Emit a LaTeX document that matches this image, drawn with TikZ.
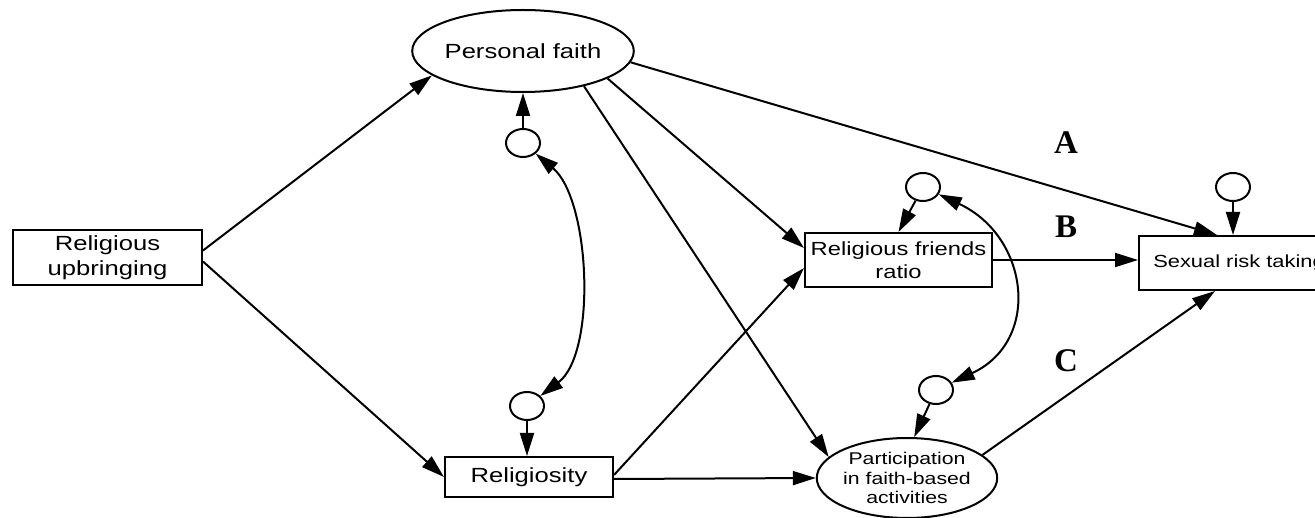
\documentclass[tikz,border=0pt]{standalone}
\usepackage{fontspec}
\setmainfont{Liberation Sans}[FakeStretch=1.25]
\newfontfamily\lettfont{Liberation Serif}
\usetikzlibrary{arrows.meta,shapes.geometric}
\tikzset{
  base/.style={draw, line width=2pt, inner sep=0pt, align=center},
  boxnode/.style={base, rectangle},
  ovalnode/.style={base, ellipse},
  errnode/.style={base, ellipse, minimum width=34pt, minimum height=28pt},
  arr/.style={line width=2pt, -{Triangle[length=23pt,width=14pt]}},
  dbl/.style={line width=2pt, {Triangle[length=23pt,width=14pt]}-{Triangle[length=23pt,width=14pt]}},
  lett/.style={font=\lettfont\bfseries\fontsize{33}{33}\selectfont, inner sep=0pt}
}
\begin{document}
\begin{tikzpicture}[x=1pt,y=-1pt]
\useasboundingbox (0,0) rectangle (1315,518);
\clip (0,0) rectangle (1315,518);
% nodes
\node[boxnode, minimum width=189pt, minimum height=55pt, font=\fontsize{20.5}{25}\selectfont] (RU) at (107.5,257.5) {Religious\\upbringing};
\node[ovalnode, minimum width=160pt, minimum height=82pt, font=\fontsize{20.5}{24}\selectfont] (PF) at (523,51) {Personal faith};
\node[boxnode, minimum width=168pt, minimum height=40pt, font=\fontsize{20.5}{24}\selectfont] (Rel) at (529,477) {Religiosity};
\node[boxnode, minimum width=187pt, minimum height=54pt, font=\fontsize{19}{23}\selectfont] (RFR) at (898.5,260) {Religious friends\\ratio};
\node[boxnode, minimum width=200pt, minimum height=54pt, font=\fontsize{17.5}{20}\selectfont] (SRT) at (1239,263) {Sexual risk taking};
\node[ovalnode, minimum width=160pt, minimum height=80pt, font=\fontsize{17}{19.5}\selectfont] (Part) at (907,478) {Participation\\in faith-based\\activities};
\node[errnode] (c1) at (523,143) {};
\node[errnode] (c2) at (527,406) {};
\node[errnode] (c3) at (923,187) {};
\node[errnode] (c4) at (936,390) {};
\node[errnode] (c5) at (1233,187) {};
% letters
\node[lett] (A) at (1066,143) {A};
\node[lett] (B) at (1066,227) {B};
\node[lett] (C) at (1066,361) {C};
% connectors
\draw[arr] ([yshift=7pt]RU.east) -- (PF.195);
\draw[arr] ([yshift=-4pt]RU.east) -- (Rel.west);
\draw[arr] (c1) -- (PF.south);
\draw[arr] (c2) -- (c2 |- Rel.north);
\draw[dbl] (c1) to[out=-40,in=37,looseness=0.75] (c2);
\draw[arr] (PF.-30) -- (Part.165);
\draw[arr] (PF.-18) -- ([yshift=12pt]RFR.west);
\draw[arr] (PF.-6) -- ([xshift=-22pt]SRT.north);
\draw[arr] ([yshift=2pt]Rel.east) -- ([yshift=-8pt]RFR.west);
\draw[arr] ([yshift=-2pt]Rel.east) -- (Part.west);
\draw[arr] (RFR.east) -- (RFR.east -| SRT.west);
\draw[arr] (Part.17) -- ([xshift=-24pt]SRT.south);
\draw[arr] (c3) -- (RFR.north);
\draw[arr] (c4) -- (Part.80);
\draw[arr] (c5) -- (c5 |- SRT.north);
\draw[dbl] (c3) to[out=-25,in=25,looseness=1.35] (c4);
\end{tikzpicture}
\end{document}
